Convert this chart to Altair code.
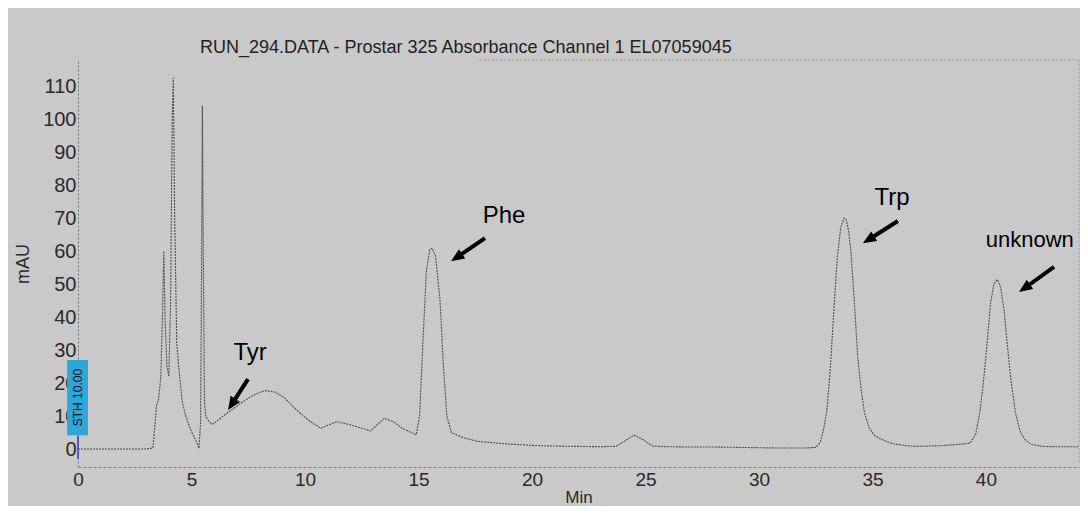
import altair as alt
import pandas as pd

# ---- chromatogram trace ----
time_min = [0, 1, 2, 3, 3.3, 3.4, 3.45, 3.55, 3.65, 3.72, 3.78, 3.84, 3.92, 4.0, 4.08,
            4.15, 4.2, 4.26, 4.35, 4.45, 4.6, 4.75, 4.9, 5.05, 5.2, 5.33, 5.4, 5.44,
            5.48, 5.52, 5.57, 5.62, 5.75, 5.9, 6.1, 6.4, 6.8, 7.2, 7.6, 8.0, 8.3, 8.7,
            9.1, 9.6, 10.2, 10.7, 11.0, 11.4, 11.9, 12.4, 12.9, 13.2, 13.5, 13.9, 14.3,
            14.9, 15.05, 15.2, 15.35, 15.5, 15.6, 15.75, 15.95, 16.1, 16.25, 16.45, 16.9,
            17.6, 18.3, 19.0, 20.0, 21.0, 22.0, 23.0, 23.7, 24.1, 24.5, 24.9, 25.3, 26.0,
            27.0, 28.0, 29.0, 30.0, 31.0, 32.0, 32.5, 32.7, 32.85, 33.0, 33.15, 33.3,
            33.45, 33.6, 33.75, 33.85, 33.95, 34.05, 34.2, 34.35, 34.5, 34.65, 34.85,
            35.1, 35.5, 35.9, 36.5, 37.0, 38.0, 38.8, 39.3, 39.55, 39.75, 39.9, 40.05,
            40.2, 40.35, 40.5, 40.65, 40.8, 40.95, 41.1, 41.3, 41.5, 41.7, 42.0, 42.5,
            43.0, 44.1]
mau = [0, 0, 0, 0, 0.3, 8, 13, 15, 22, 40, 60, 38, 25, 22, 45,
       100, 112.5, 70, 32, 24, 14, 10, 7, 4.5, 2.5, 0.2, 8, 50,
       104, 60, 15, 10, 8.5, 7.5, 8.3, 10, 12, 14, 15.8, 17.2, 17.7, 17.2,
       15.5, 12, 8.5, 6.3, 7.2, 8.3, 7.5, 6.5, 5.5, 7.5, 9.3, 8.3, 6.2,
       4.3, 10, 33, 54, 60.5, 60.8, 58.5, 45, 25, 10, 5, 3.6,
       2.3, 1.9, 1.5, 1.1, 0.9, 0.8, 0.7, 0.8, 2.5, 4.2, 2.8, 0.9, 0.7,
       0.6, 0.6, 0.5, 0.4, 0.3, 0.3, 0.5, 2, 6, 12, 25, 42,
       58, 67, 70, 69.5, 66, 60, 45, 28, 18, 11, 6.5,
       4, 2.6, 1.6, 1.0, 0.8, 1.0, 1.4, 1.8, 4.5, 12, 21, 32,
       44, 50, 51.4, 49, 42, 31, 21, 11, 5.5, 3, 1.4, 0.8,
       0.7, 0.7]

x_ticks = [0, 5, 10, 15, 20, 25, 30, 35, 40]
y_ticks = [0, 10, 20, 30, 40, 50, 60, 70, 80, 90, 100, 110]
x_domain = [0, 44.1]
y_domain = [-5.45, 117.9]

# ---- peak annotations ----
peak_names = ["Tyr", "Phe", "Trp", "unknown"]
label_x = [7.58, 18.77, 35.86, 41.93]
label_y = [29.1, 70.6, 76.1, 63.3]
label_size = [24, 24, 24, 22]
arrow_tail_x = [7.49, 17.93, 36.12, 43.00]
arrow_tail_y = [21.2, 63.9, 69.1, 55.2]
arrow_head_x = [6.78, 16.69, 34.84, 41.71]
arrow_head_y = [13.6, 58.1, 63.5, 48.8]
arrow_angle = [212.8, 236.0, 237.9, 235.5]

# ---- detector tag at start ----
tag_text = ["STH 10.00"]
tag_x = [-0.48, 0.44]
tag_y = [4.2, 27.0]

# ---- partial frame lines ----
frame_top_x = [17.7, 44.1]
frame_right_y = [-4.0, 117.9]

FONT = "Liberation Sans"
trace = pd.DataFrame({"t": time_min, "v": mau})
ann = pd.DataFrame({"name": peak_names, "lx": label_x, "ly": label_y, "fs": label_size,
                    "tx": arrow_tail_x, "ty": arrow_tail_y,
                    "hx": arrow_head_x, "hy": arrow_head_y, "ang": arrow_angle})

xs = alt.Scale(domain=x_domain, nice=False, zero=False)
ys = alt.Scale(domain=y_domain, nice=False, zero=False)

x_axis = alt.Axis(values=x_ticks, ticks=False, grid=False, labelPadding=3,
                  labelFontSize=19, labelFont=FONT, labelColor="#2a2a2a",
                  labelOverlap=False, title="Min",
                  titleFont=FONT, titleFontSize=17, titleFontWeight="normal",
                  titleColor="#2a2a2a", titlePadding=0,
                  domainColor="#808080", domainDash=[3, 2], labelFlush=False)
y_axis = alt.Axis(values=y_ticks, ticks=False, grid=False, labelPadding=2,
                  labelFontSize=20, labelFont=FONT, labelColor="#2a2a2a",
                  labelOverlap=False, title="mAU",
                  titleFont=FONT, titleFontSize=18, titleFontWeight="normal",
                  titleColor="#2a2a2a", titlePadding=10,
                  domainColor="#707070", domainDash=[2, 2], labelFlush=False)


def X(field):
    return alt.X(field, scale=xs, axis=x_axis, title="Min")


def Y(field):
    return alt.Y(field, scale=ys, axis=y_axis, title="mAU")


line = alt.Chart(trace).mark_line(color="#4f4f4f", strokeWidth=1.1, strokeDash=[2, 1]).encode(
    x=X("t:Q"), y=Y("v:Q"))

top_df = pd.DataFrame({"x1": [frame_top_x[0]], "x2": [frame_top_x[1]], "y": [y_domain[1]]})
frame_top = alt.Chart(top_df).mark_rule(color="#9a9a90", strokeDash=[2, 2]).encode(
    x=X("x1:Q"), x2="x2:Q", y=Y("y:Q"))
right_df = pd.DataFrame({"x": [x_domain[1]], "y1": [frame_right_y[0]], "y2": [frame_right_y[1]]})
frame_right = alt.Chart(right_df).mark_rule(color="#9a9a9a", strokeDash=[2, 2]).encode(
    x=X("x:Q"), y=Y("y1:Q"), y2="y2:Q")

tag_df = pd.DataFrame({"x1": [tag_x[0]], "x2": [tag_x[1]], "y1": [tag_y[0]], "y2": [tag_y[1]],
                       "cx": [(tag_x[0] + tag_x[1]) / 2], "cy": [(tag_y[0] + tag_y[1]) / 2],
                       "txt": tag_text})
tag_box = alt.Chart(tag_df).mark_rect(color="#2ea6d8").encode(
    x=X("x1:Q"), x2="x2:Q", y=Y("y1:Q"), y2="y2:Q")
tag_label = alt.Chart(tag_df).mark_text(angle=270, font=FONT, fontSize=12, color="#111111",
                                        align="center", baseline="middle").encode(
    x=X("cx:Q"), y=Y("cy:Q"), text="txt:N")
marker_df = pd.DataFrame({"x": [0.0], "y1": [-3.0], "y2": [4.0]})
marker = alt.Chart(marker_df).mark_rule(color="#4a5cc8", strokeWidth=2).encode(
    x=X("x:Q"), y=Y("y1:Q"), y2="y2:Q")

shafts = alt.Chart(ann).mark_rule(color="black", strokeWidth=4).encode(
    x=X("tx:Q"), y=Y("ty:Q"), x2="hx:Q", y2="hy:Q")
heads = alt.Chart(ann).mark_point(shape="M0,-1L-0.8,0.9L0.8,0.9Z", filled=True, opacity=1,
                                  color="black", size=196).encode(
    x=X("hx:Q"), y=Y("hy:Q"), angle=alt.Angle("ang:Q", scale=None))
labels = alt.Chart(ann).mark_text(font=FONT, color="black",
                                  align="center", baseline="middle").encode(
    x=X("lx:Q"), y=Y("ly:Q"), text="name:N",
    size=alt.Size("fs:Q", scale=None, legend=None))

chart = alt.layer(line, frame_top, frame_right, tag_box, tag_label, marker,
                  shafts, heads, labels).properties(
    width=1001, height=407,
    autosize=alt.AutoSizeParams(type="none"),
    padding={"left": 70, "top": 52, "right": 1, "bottom": 39},
    title=alt.TitleParams("RUN_294.DATA - Prostar 325 Absorbance Channel 1 EL07059045",
                          anchor="start", frame="group", dx=122, offset=3, font=FONT,
                          fontSize=18, fontWeight="normal", color="#222222"),
).configure(background="#c9c9c9").configure_view(stroke=None).configure_axis(
    labelOverlap=False)

chart.save("out.html", embed_options={"renderer": "svg", "actions": False})
